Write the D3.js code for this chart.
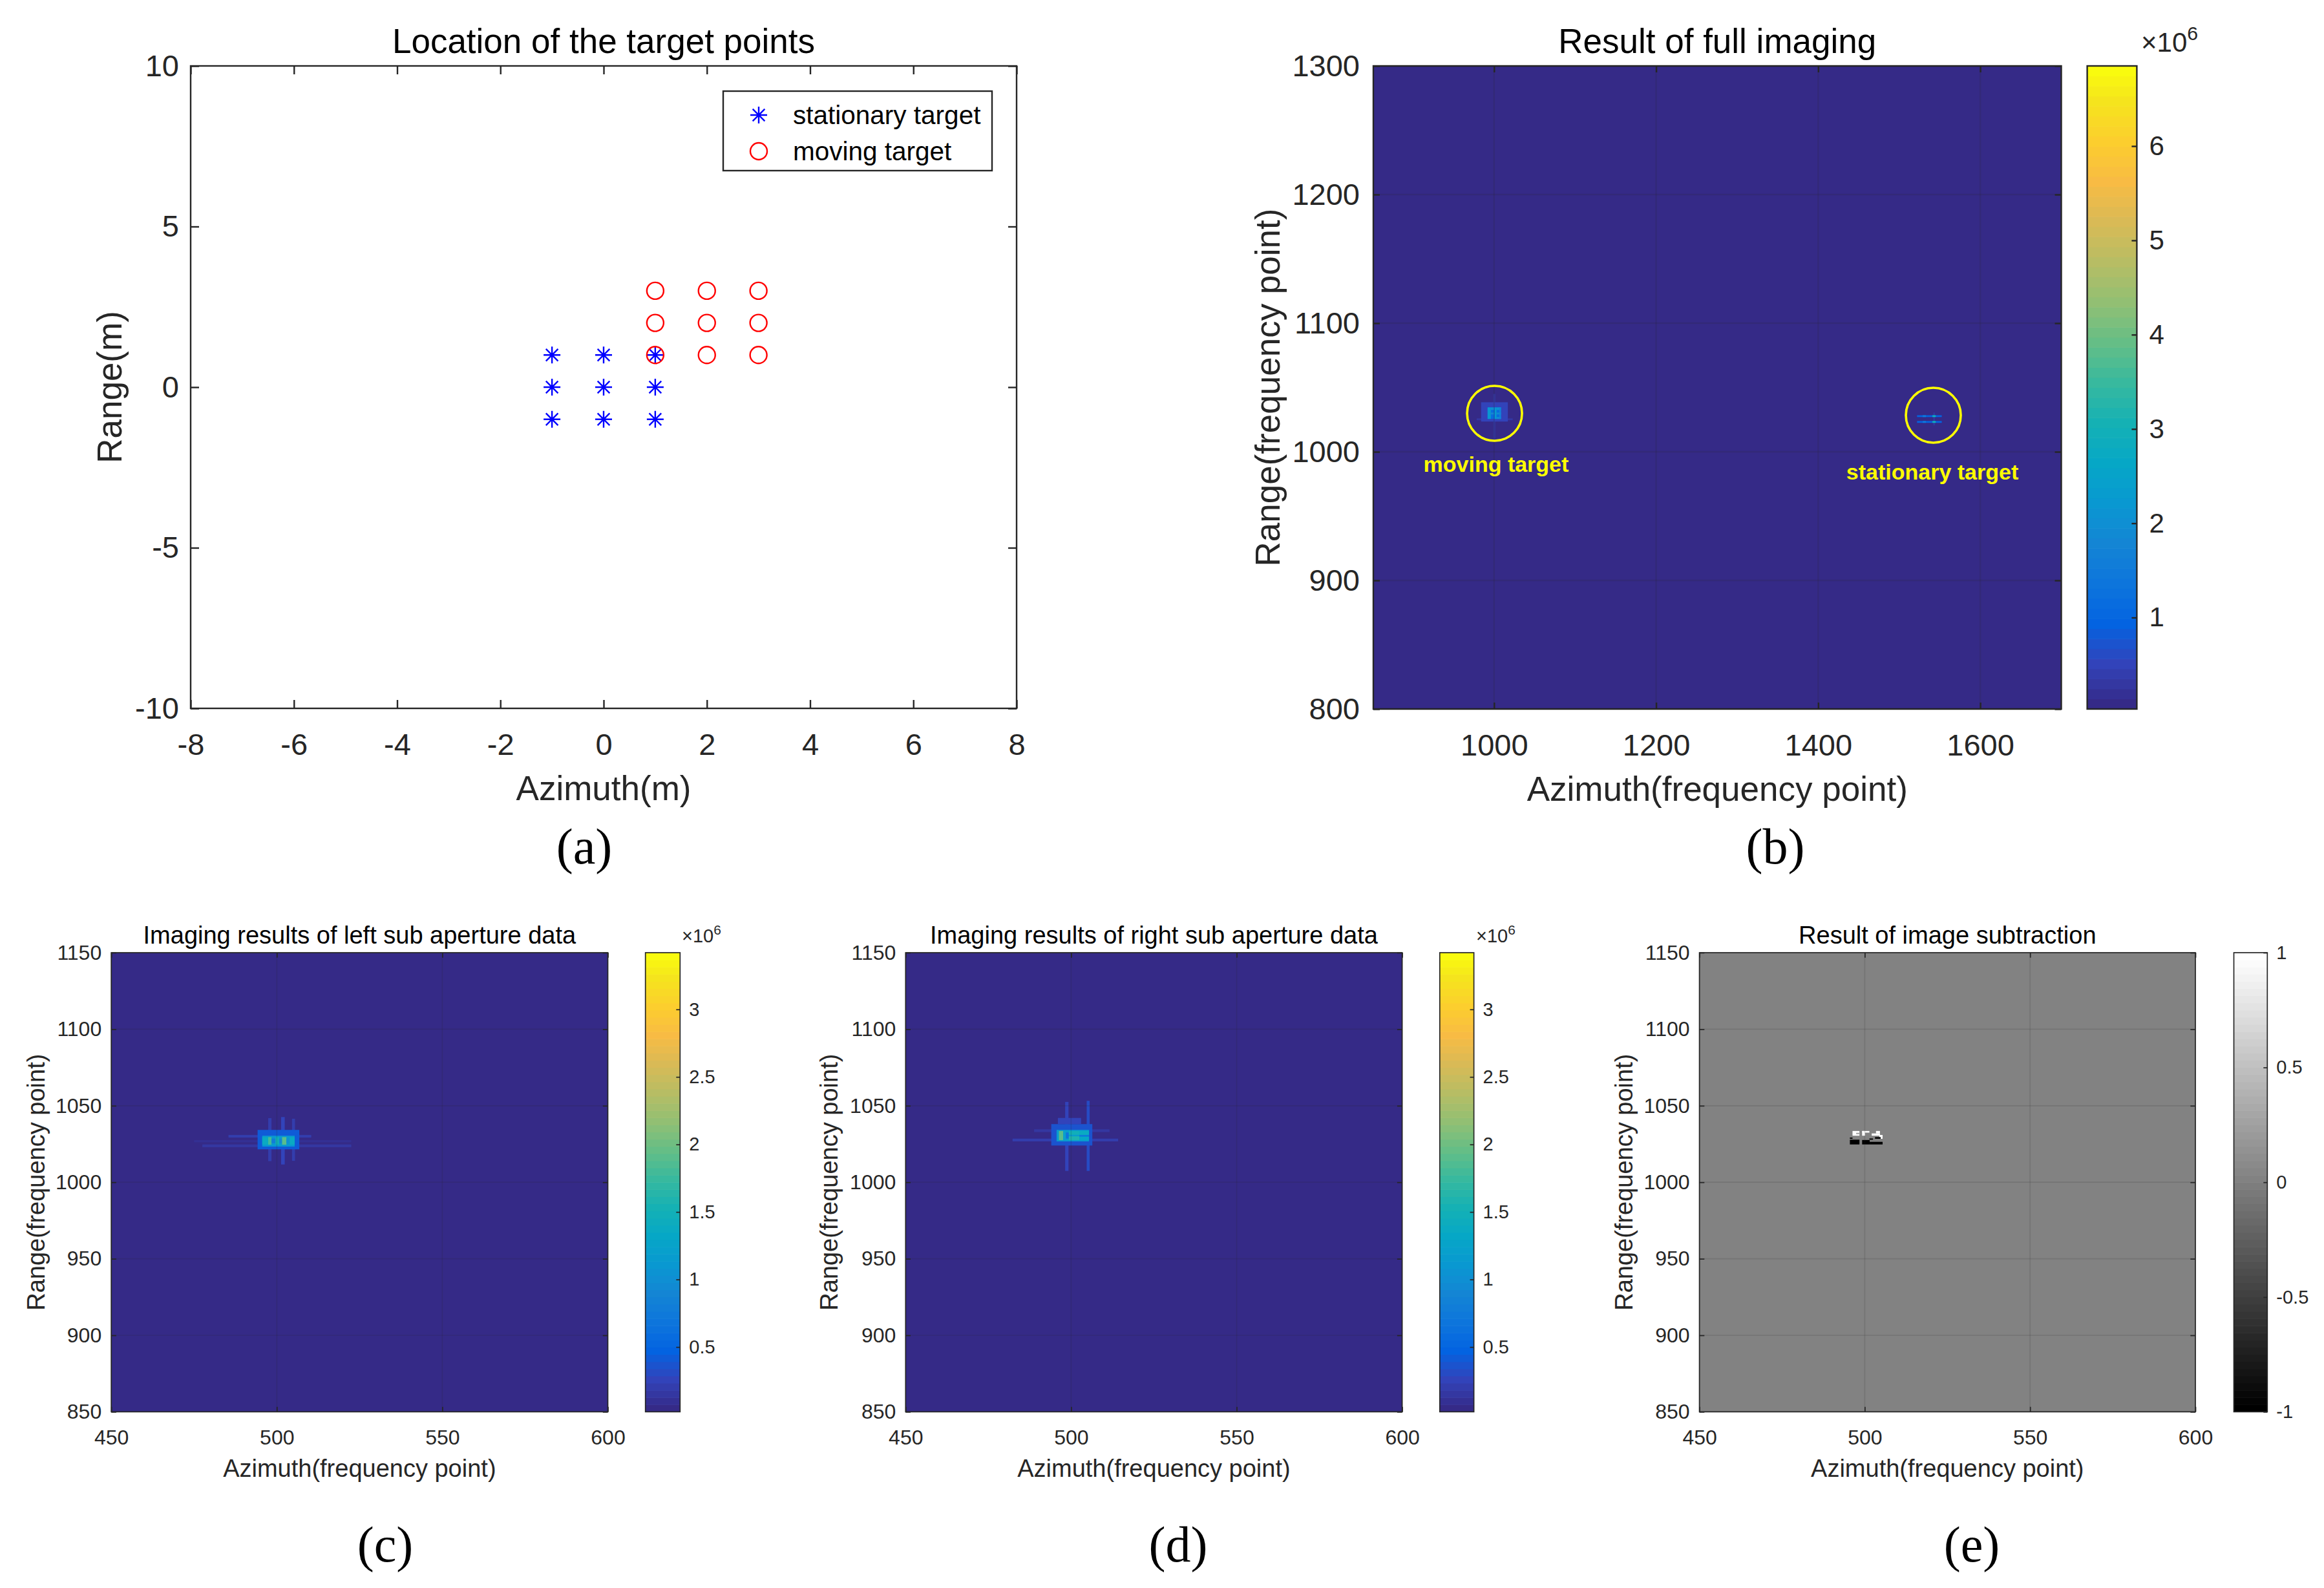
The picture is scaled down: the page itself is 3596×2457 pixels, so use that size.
<!DOCTYPE html>
<html>
<head>
<meta charset="utf-8">
<script src="https://cdn.jsdelivr.net/npm/d3@7/dist/d3.min.js"></script>
<style>
body { margin: 0; background: #fff; }
svg text { font-family: "Liberation Sans", Arial, sans-serif; }
</style>
</head>
<body>
<div id="fig"></div>
<script>
// (a) location of the target points
var stationaryX = [-1, 0, 1, -1, 0, 1, -1, 0, 1],
    stationaryY = [1, 1, 1, 0, 0, 0, -1, -1, -1];
var movingX = [1, 2, 3, 1, 2, 3, 1, 2, 3],
    movingY = [3, 3, 3, 2, 2, 2, 1, 1, 1];
var aXTicks = [-8, -6, -4, -2, 0, 2, 4, 6, 8],
    aYTicks = [-10, -5, 0, 5, 10];

// image patches : [x0, x1, y0, y1, value] (values x1e6 for b,c,d)
var fullCells = [
    [978.5, 1023, 1024.5, 1026, 0.25],
    [999, 1001.5, 1008, 1045, 0.28],
    [984, 1017, 1023.5, 1038.5, 0.5],
    [992, 1008.5, 1025.5, 1034.5, 1.1],
    [992, 996, 1025.5, 1034.5, 2.2],
    [996, 1000, 1032.5, 1034.5, 2.0],
    [996, 1000, 1029, 1030.5, 1.8],
    [1001, 1003, 1025.5, 1034.5, 2.3],
    [1003, 1008.5, 1032.5, 1034.5, 2.1],
    [1003, 1008.5, 1029, 1030.5, 1.9],
    [1003, 1008.5, 1025.5, 1027, 2.0],
    [1006.5, 1008.5, 1025.5, 1034.5, 1.7],
    [1542, 1544, 1020.5, 1030.5, 0.3],
    [1522, 1552.5, 1027, 1028.4, 0.9],
    [1522, 1552.5, 1022.5, 1023.9, 0.9],
    [1529, 1533, 1027, 1028.4, 1.5],
    [1529, 1533, 1022.5, 1023.9, 1.5],
    [1541, 1545, 1027, 1028.4, 3.0],
    [1541, 1545, 1022.5, 1023.9, 3.0]
];
var leftCells = [
    [475, 522.5, 1026.1, 1027.5, 0.12],
    [477.5, 522.5, 1022.9, 1024.7, 0.14],
    [485.4, 510.4, 1029.2, 1030.9, 0.2],
    [497.4, 498.4, 1013.8, 1041.9, 0.22],
    [501.3, 502.4, 1011.6, 1042.6, 0.25],
    [504.6, 505.5, 1014, 1041.5, 0.22],
    [494.2, 506.8, 1021.5, 1034.2, 0.4],
    [495.6, 505.4, 1023.3, 1030.4, 1.1],
    [495.6, 497.4, 1024.5, 1029.5, 1.4],
    [497.4, 498.4, 1024.5, 1029.5, 1.8],
    [498.4, 499.6, 1025.5, 1028.5, 0.8],
    [499.6, 500.7, 1024.5, 1029.5, 1.5],
    [500.7, 501.6, 1025.5, 1028.5, 0.9],
    [501.6, 502.9, 1024.5, 1029.5, 1.9],
    [502.9, 503.9, 1025.5, 1028.5, 1.0],
    [503.9, 505.4, 1024.5, 1029.5, 1.4]
];
var rightCells = [
    [482.3, 514.2, 1026.7, 1028.5, 0.18],
    [488.8, 511.6, 1032.8, 1034.6, 0.15],
    [498.2, 499.2, 1007.4, 1052.5, 0.25],
    [504.7, 505.6, 1007.4, 1053.2, 0.3],
    [494, 506.4, 1024, 1038, 0.38],
    [496, 503, 1038, 1042, 0.25],
    [495.6, 505.4, 1026.7, 1034.2, 1.15],
    [496.3, 497.6, 1027.5, 1033.5, 1.9],
    [497.6, 498.4, 1027.5, 1033.5, 1.2],
    [498.4, 499.3, 1028.5, 1032.5, 0.7],
    [499.3, 502.5, 1027.5, 1030, 1.6],
    [499.3, 502.5, 1031, 1033.5, 1.5],
    [502.5, 505.4, 1029.8, 1030.8, 0.7],
    [502.5, 505.4, 1031, 1033.5, 1.4],
    [502.5, 505.4, 1027.5, 1029.7, 1.3]
];
var diffCells = [
    [496.3, 498.4, 1030.4, 1033.5, 1],
    [497.4, 498.4, 1031.4, 1032.3, 0.3],
    [499.2, 500.1, 1030.4, 1033.5, 1],
    [499.2, 501.4, 1032.4, 1033.5, 1],
    [503.4, 504.6, 1031.9, 1033.5, 1],
    [502.1, 504.6, 1030.4, 1031.9, 1],
    [504.4, 505.4, 1028.4, 1030.9, 1],
    [495.5, 498.4, 1024.7, 1027.8, -1],
    [495.5, 496.3, 1028.4, 1029.2, -1],
    [499.2, 501.5, 1024.7, 1027.6, -1],
    [501.5, 505.4, 1024.7, 1026.4, -1],
    [501.4, 502.5, 1027.8, 1028.6, -1],
    [503.1, 504.8, 1028.4, 1029.5, -1]
];

// (b) annotations
var annoX = [1000.6, 1542.1], annoY = [1029.9, 1028.4];
var annoLabel = ["moving target", "stationary target"],
    annoLabelX = [1002.5, 1540.9], annoLabelY = [984.6, 978.6];

var bXTicks = [1000, 1200, 1400, 1600], bYTicks = [800, 900, 1000, 1100, 1200, 1300], bCTicks = [1, 2, 3, 4, 5, 6];
var subXTicks = [450, 500, 550, 600], subYTicks = [850, 900, 950, 1000, 1050, 1100, 1150];
var subCTicks = [0.5, 1, 1.5, 2, 2.5, 3], diffCTicks = [-1, -0.5, 0, 0.5, 1];

// colormaps
var parulaPos = [0, 4, 8, 12, 16, 20, 24, 28, 32, 36, 40, 44, 48, 52, 56, 60, 63].map(function (d) { return d / 63; });
var parulaRGB = ["#352a87", "#3243ba", "#0363e1", "#0d75dc", "#1485d4", "#0998d1", "#06a7c6", "#15b1b4",
    "#38b99e", "#65be86", "#92bf73", "#b7bd64", "#d9ba56", "#f8bb44", "#fcce2e", "#f5e41d", "#f9fb0e"];
var parula = d3.scaleLinear().domain(parulaPos).range(parulaRGB);
var gray = d3.scaleLinear().domain([0, 1]).range(["#000", "#fff"]);

function quantized(cmap, lo, hi) {
    return function (v) {
        var t = Math.max(0, Math.min(1, (v - lo) / (hi - lo)));
        return cmap(Math.min(63, Math.floor(t * 64)) / 63);
    };
}

var W = 3596, H = 2457;
var svg = d3.select('#fig').append('svg').attr('width', W).attr('height', H);
svg.append('rect').attr('width', W).attr('height', H).attr('fill', '#fff');

var ink = '#262626';
var fmt = function (d) { return String(d); };

function frame(g, x, y, p) {
    var b = p.box;
    var setText = function (sel) {
        sel.select('.domain').remove();
        sel.attr('font-size', p.tick).attr('font-family', null).attr('color', ink);
        sel.selectAll('line').attr('stroke-width', p.lw);
    };
    g.append('g').attr('transform', 'translate(0,' + b.b + ')')
        .call(d3.axisBottom(x).tickValues(p.xTicks).tickFormat(fmt).tickSizeInner(-p.tl).tickSizeOuter(0).tickPadding(p.padX))
        .call(setText);
    g.append('g').attr('transform', 'translate(0,' + b.t + ')')
        .call(d3.axisTop(x).tickValues(p.xTicks).tickFormat('').tickSizeInner(-p.tl).tickSizeOuter(0))
        .call(setText);
    g.append('g').attr('transform', 'translate(' + b.l + ',0)')
        .call(d3.axisLeft(y).tickValues(p.yTicks).tickFormat(fmt).tickSizeInner(-p.tl).tickSizeOuter(0).tickPadding(p.padY))
        .call(setText);
    g.append('g').attr('transform', 'translate(' + b.r + ',0)')
        .call(d3.axisRight(y).tickValues(p.yTicks).tickFormat('').tickSizeInner(-p.tl).tickSizeOuter(0))
        .call(setText);
    g.selectAll('.tick text').attr('fill', ink);

    g.append('rect').attr('x', b.l).attr('y', b.t).attr('width', b.r - b.l).attr('height', b.b - b.t)
        .attr('fill', 'none').attr('stroke', ink).attr('stroke-width', p.lw);

    var cx = (b.l + b.r) / 2;
    g.append('text').attr('x', cx).attr('y', b.t - p.titleGap).attr('text-anchor', 'middle')
        .attr('font-size', p.label).attr('fill', '#000').text(p.title);
    g.append('text').attr('x', cx).attr('y', b.b + p.xLabelGap).attr('text-anchor', 'middle')
        .attr('font-size', p.label).attr('fill', ink).text(p.xLabel);
    g.append('text').attr('transform', 'translate(' + (b.l - p.yLabelOff) + ',' + ((b.t + b.b) / 2) + ') rotate(-90)')
        .attr('text-anchor', 'middle').attr('dy', '0.35em')
        .attr('font-size', p.label).attr('fill', ink).text(p.yLabel);
}

function imagePanel(p) {
    var b = p.box;
    var g = svg.append('g');
    var x = d3.scaleLinear().domain(p.xDom).range([b.l, b.r]);
    var y = d3.scaleLinear().domain(p.yDom).range([b.b, b.t]);
    var color = quantized(p.cmap, p.cDom[0], p.cDom[1]);

    var clipId = 'clip' + p.id;
    g.append('clipPath').attr('id', clipId).append('rect')
        .attr('x', b.l).attr('y', b.t).attr('width', b.r - b.l).attr('height', b.b - b.t);
    var img = g.append('g').attr('clip-path', 'url(#' + clipId + ')');
    img.append('rect').attr('x', b.l).attr('y', b.t).attr('width', b.r - b.l).attr('height', b.b - b.t)
        .attr('fill', color(p.bg));
    img.selectAll('rect.cell').data(p.cells).enter().append('rect')
        .attr('class', 'cell')
        .attr('x', function (d) { return x(d[0]); })
        .attr('width', function (d) { return x(d[1]) - x(d[0]); })
        .attr('y', function (d) { return y(d[3]); })
        .attr('height', function (d) { return y(d[2]) - y(d[3]); })
        .attr('fill', function (d) { return color(d[4]); });

    // grid on top of the image
    var grid = g.append('g').attr('stroke', ink).attr('stroke-opacity', 0.15).attr('stroke-width', p.lw);
    grid.selectAll('line.gx').data(p.xTicks).enter().append('line')
        .attr('x1', x).attr('x2', x).attr('y1', b.t).attr('y2', b.b);
    grid.selectAll('line.gy').data(p.yTicks).enter().append('line')
        .attr('y1', y).attr('y2', y).attr('x1', b.l).attr('x2', b.r);

    frame(g, x, y, p);

    // colorbar
    var cb = p.cbar;
    var c = d3.scaleLinear().domain(p.cDom).range([b.b, b.t]);
    var bands = d3.range(64);
    var step = (p.cDom[1] - p.cDom[0]) / 64;
    g.selectAll('rect.band').data(bands).enter().append('rect')
        .attr('x', cb.l).attr('width', cb.r - cb.l)
        .attr('y', function (k) { return c(p.cDom[0] + (k + 1) * step); })
        .attr('height', function (k) { return c(p.cDom[0] + k * step) - c(p.cDom[0] + (k + 1) * step) + 0.6; })
        .attr('fill', function (k) { return p.cmap(k / 63); });
    g.append('rect').attr('x', cb.l).attr('y', b.t).attr('width', cb.r - cb.l).attr('height', b.b - b.t)
        .attr('fill', 'none').attr('stroke', ink).attr('stroke-width', p.lw);
    g.append('g').attr('transform', 'translate(' + cb.r + ',0)')
        .call(d3.axisRight(c).tickValues(p.cTicks).tickFormat(fmt).tickSizeInner(-cb.tl).tickSizeOuter(0).tickPadding(cb.pad))
        .call(function (s) {
            s.select('.domain').remove();
            s.attr('font-size', p.cbFont).attr('font-family', null).attr('color', ink);
            s.selectAll('line').attr('stroke-width', p.lw);
            s.selectAll('text').attr('fill', ink);
        });
    if (p.expo) {
        var t = g.append('text').attr('x', p.expo.x).attr('y', p.expo.y).attr('font-size', p.cbFont).attr('fill', ink);
        t.append('tspan').text('\u00d710');
        t.append('tspan').attr('dy', -p.cbFont * 0.42).attr('font-size', p.cbFont * 0.72).text('6');
    }
    return { g: g, x: x, y: y };
}

// ---------- (a) ----------
(function () {
    var p = {
        box: { l: 295, r: 1573, t: 102, b: 1096 },
        xTicks: aXTicks, yTicks: aYTicks, tl: 13, lw: 2.4, tick: 47, label: 53,
        padX: 39, padY: 18, titleGap: 20, xLabelGap: 142, yLabelOff: 126,
        title: 'Location of the target points', xLabel: 'Azimuth(m)', yLabel: 'Range(m)'
    };
    var g = svg.append('g');
    var x = d3.scaleLinear().domain([-8, 8]).range([p.box.l, p.box.r]);
    var y = d3.scaleLinear().domain([-10, 10]).range([p.box.b, p.box.t]);
    frame(g, x, y, p);

    var r = 13;
    var star = 'M' + (-r) + ',0H' + r + 'M0,' + (-r) + 'V' + r +
        'M' + (-r * 0.72) + ',' + (-r * 0.72) + 'L' + (r * 0.72) + ',' + (r * 0.72) +
        'M' + (-r * 0.72) + ',' + (r * 0.72) + 'L' + (r * 0.72) + ',' + (-r * 0.72);

    g.selectAll('path.st').data(stationaryX).enter().append('path')
        .attr('d', star).attr('fill', 'none').attr('stroke', '#0000ff').attr('stroke-width', 2.4)
        .attr('transform', function (d, i) { return 'translate(' + x(d) + ',' + y(stationaryY[i]) + ')'; });
    g.selectAll('circle.mv').data(movingX).enter().append('circle')
        .attr('cx', function (d) { return x(d); })
        .attr('cy', function (d, i) { return y(movingY[i]); })
        .attr('r', r).attr('fill', 'none').attr('stroke', '#ff0000').attr('stroke-width', 2.4);

    // legend
    var lg = g.append('g');
    lg.append('rect').attr('x', 1119).attr('y', 141).attr('width', 416).attr('height', 123)
        .attr('fill', '#fff').attr('stroke', ink).attr('stroke-width', 2.4);
    lg.append('path').attr('d', star).attr('transform', 'translate(1174,178)')
        .attr('fill', 'none').attr('stroke', '#0000ff').attr('stroke-width', 2.4);
    lg.append('circle').attr('cx', 1174).attr('cy', 234).attr('r', r)
        .attr('fill', 'none').attr('stroke', '#ff0000').attr('stroke-width', 2.4);
    lg.append('text').attr('x', 1227).attr('y', 178).attr('dy', '0.35em').attr('font-size', 40.5).attr('fill', '#000').text('stationary target');
    lg.append('text').attr('x', 1227).attr('y', 234).attr('dy', '0.35em').attr('font-size', 40.5).attr('fill', '#000').text('moving target');
})();

// ---------- (b) ----------
var pb = imagePanel({
    id: 'b', box: { l: 2125, r: 3189.5, t: 102, b: 1097 },
    xDom: [851, 1700], yDom: [800, 1300], xTicks: bXTicks, yTicks: bYTicks,
    cDom: [0.03, 6.85], cTicks: bCTicks, cmap: parula, bg: 0, cells: fullCells,
    tl: 10, lw: 2.4, tick: 47, label: 53, cbFont: 42,
    padX: 39, padY: 21, titleGap: 20, xLabelGap: 142, yLabelOff: 164,
    cbar: { l: 3229.6, r: 3306.4, tl: 8, pad: 19 }, expo: { x: 3313, y: 80 },
    title: 'Result of full imaging', xLabel: 'Azimuth(frequency point)', yLabel: 'Range(frequency point)'
});
pb.g.selectAll('circle.anno').data(annoX).enter().append('circle')
    .attr('cx', function (d) { return pb.x(d); })
    .attr('cy', function (d, i) { return pb.y(annoY[i]); })
    .attr('r', 42.5).attr('fill', 'none').attr('stroke', '#ffff00').attr('stroke-width', 3.6);
pb.g.selectAll('text.anno').data(annoLabel).enter().append('text')
    .attr('x', function (d, i) { return pb.x(annoLabelX[i]); })
    .attr('y', function (d, i) { return pb.y(annoLabelY[i]); })
    .attr('text-anchor', 'middle').attr('font-size', 34).attr('font-weight', 'bold')
    .attr('fill', '#ffff00').text(function (d) { return d; });

// ---------- (c), (d), (e) ----------
var subCommon = {
    xDom: [450, 600], yDom: [850, 1150], xTicks: subXTicks, yTicks: subYTicks,
    tl: 7.7, lw: 1.7, tick: 32, label: 38, cbFont: 29,
    padX: 28, padY: 15, titleGap: 14, xLabelGap: 101,
    xLabel: 'Azimuth(frequency point)', yLabel: 'Range(frequency point)'
};
function sub(extra) { return Object.assign({}, subCommon, extra); }

imagePanel(sub({
    id: 'c', box: { l: 172.2, r: 940.5, t: 1474, b: 2184.4 }, yLabelOff: 117,
    cDom: [0.02, 3.42], cTicks: subCTicks, cmap: parula, bg: 0, cells: leftCells,
    cbar: { l: 998.7, r: 1052.3, tl: 6, pad: 14 }, expo: { x: 1055, y: 1458 },
    title: 'Imaging results of left sub aperture data'
}));
imagePanel(sub({
    id: 'd', box: { l: 1401.3, r: 2169.6, t: 1474, b: 2184.4 }, yLabelOff: 118.6,
    cDom: [0.02, 3.42], cTicks: subCTicks, cmap: parula, bg: 0, cells: rightCells,
    cbar: { l: 2227.8, r: 2280.6, tl: 6, pad: 14 }, expo: { x: 2284, y: 1458 },
    title: 'Imaging results of right sub aperture data'
}));
imagePanel(sub({
    id: 'e', box: { l: 2629.6, r: 3397, t: 1474, b: 2184.4 }, yLabelOff: 116.7,
    cDom: [-1, 1], cTicks: diffCTicks, cmap: gray, bg: 0, cells: diffCells,
    cbar: { l: 3456.5, r: 3508.3, tl: 6, pad: 14 },
    title: 'Result of image subtraction'
}));

// captions
var capText = ['(a)', '(b)', '(c)', '(d)', '(e)'],
    capX = [904, 2747, 596, 1823, 3051], capY = [1336, 1336, 2416, 2416, 2416];
svg.selectAll('text.cap').data(capText).enter().append('text')
    .attr('x', function (d, i) { return capX[i]; })
    .attr('y', function (d, i) { return capY[i]; })
    .attr('text-anchor', 'middle').attr('font-size', 78).attr('fill', '#000')
    .style('font-family', '"Liberation Serif", "Times New Roman", serif')
    .text(function (d) { return d; });
</script>
</body>
</html>
